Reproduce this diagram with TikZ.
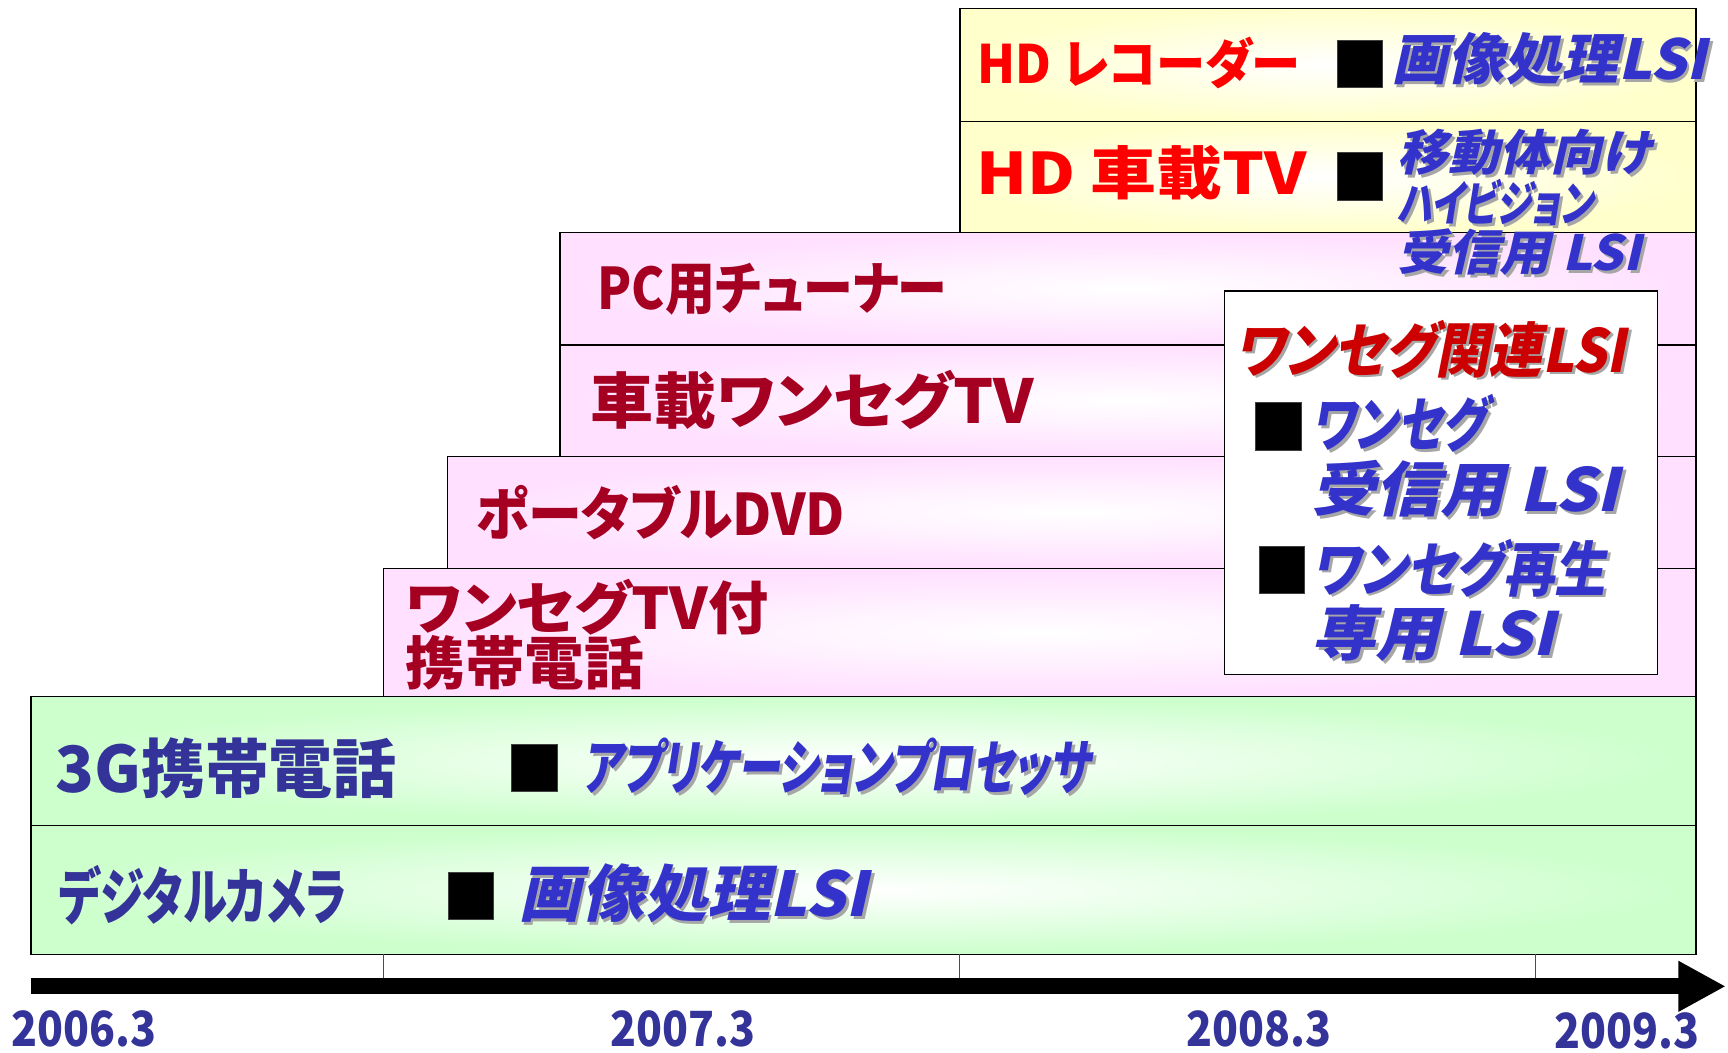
\documentclass[tikz,border=0pt]{standalone}
\usepackage{graphicx}
\usepackage{fontspec}
\setmainfont{Noto Sans CJK JP}[RawFeature=+palt]
\newfontfamily\slfont{Noto Sans CJK JP}[FakeSlant=0.22, RawFeature=+palt]
\usepackage{tikz}
\usetikzlibrary{%
  positioning,%
  arrows.meta%
}
\definecolor{boxyellow}{HTML}{FFFFCC}
\definecolor{boxpink}{HTML}{FFE0FF}
\definecolor{boxgreen}{HTML}{CCFFCC}
\definecolor{prodred}{HTML}{A50021}
\definecolor{hdred}{HTML}{FF0000}
\definecolor{segred}{HTML}{CC0000}
\definecolor{lsiblue}{HTML}{3333CC}
\definecolor{navyblue}{HTML}{333399}
\definecolor{shadowgray}{HTML}{A6A6A6}
\newcommand{\shad}[1]{\makebox[0pt][l]{\kern2.5pt\raisebox{-2.5pt}{\textcolor{shadowgray}{#1}}}#1}
\newcommand{\fsz}[2]{\fontsize{#1}{#2}\selectfont}
\newcommand{\hs}[2]{\scalebox{#1}[1]{#2}}

\begin{document}
\begin{tikzpicture}[x=1pt, y=-1pt,
  ybox/.style={draw=black, line width=1.2pt, inner color=white, outer color=boxyellow},
  pbox/.style={draw=black, line width=1.2pt, inner color=white, outer color=boxpink},
  gbox/.style={draw=black, line width=1.2pt, inner color=white, outer color=boxgreen},
  wbox/.style={draw=black, line width=1.2pt, fill=white},
  chip/.style={fill=black, draw=black!75, line width=0.8pt, minimum width=41pt, minimum height=43pt, inner sep=0pt},
  hdlabel/.style={anchor=west, inner sep=0pt, text=hdred, font=\bfseries\fsz{48}{52}},
  prodlabel/.style={anchor=west, inner sep=0pt, text=prodred, align=left, font=\bfseries\fsz{52}{50}},
  navylabel/.style={anchor=west, inner sep=0pt, text=navyblue, font=\bfseries\fsz{56}{56}},
  lsilabel/.style={anchor=west, inner sep=0pt, text=lsiblue, align=left, font=\slfont\bfseries\fsz{54}{58.5}},
  yearlabel/.style={inner sep=0pt, text=navyblue, font=\bfseries\fsz{44}{44}},
  tickline/.style={draw=black!70, line width=0.8pt}
]
\useasboundingbox (0,0) rectangle (1568,954.6);

% rows, from the top
\draw[ybox] (871,8) rectangle (1539,110);
\draw[ybox] (871,110) rectangle (1539,211);
\draw[pbox] (508,211) rectangle (1539,313);
\draw[pbox] (508,313) rectangle (1539,414);
\draw[pbox] (406,414) rectangle (1539,516);
\draw[pbox] (348,516) rectangle (1539,632);
\draw[gbox] (28,632) rectangle (1539,749);
\draw[gbox] (28,749) rectangle (1539,866);
\draw[wbox] (1111,264) rectangle (1504,612);

% HD products
\node[hdlabel] (hdrec) at (887,57) {\hs{0.93}{HD レコーダー}};
\node[chip] (chiprec) at (1234,58) {};
\node[lsilabel, font=\slfont\bfseries\fsz{50}{50}] (lsirec) at (1262,55) {\shad{\hs{1.03}{画像処理LSI}}};
\node[hdlabel, font=\bfseries\fsz{52}{52}] (hdcar) at (886,157) {\hs{1.15}{HD 車載TV}};
\node[chip] (chipcar) at (1234,160) {};
\node[lsilabel, font=\slfont\bfseries\fsz{44}{44.5}] (lsicar) at (1268,185)
  {\shad{\hs{1.05}{移動体向け}}\\\shad{\hs{0.74}{ハイビジョン}}\\\shad{\hs{1.05}{受信用 LSI}}};

% one-seg products
\node[prodlabel] (pctuner) at (542,262) {\hs{0.87}{PC用チューナー}};
\node[prodlabel, font=\bfseries\fsz{55}{55}] (carseg) at (536,363) {\hs{1.04}{車載ワンセグTV}};
\node[prodlabel] (dvd) at (432,465) {\hs{0.94}{ポータブルDVD}};
\node[prodlabel] (segphone) at (368,576) {\hs{1.05}{ワンセグTV付}\\\hs{1.04}{携帯電話}};

% one-seg LSI box
\node[lsilabel, text=segred] (seglsi) at (1120,318) {\shad{\hs{0.9}{ワンセグ関連LSI}}};
\node[chip] (chiprx) at (1160,387) {};
\node[lsilabel] (segrx) at (1190,415) {\shad{\hs{0.78}{ワンセグ}}\\\shad{\hs{1.08}{受信用 LSI}}};
\node[chip] (chipplay) at (1163,517) {};
\node[lsilabel] (segplay) at (1190,546) {\shad{\hs{0.86}{ワンセグ再生}}\\\shad{\hs{1.08}{専用 LSI}}};

% base products
\node[navylabel, font=\bfseries\fsz{58}{58}] (phone3g) at (50,697) {3G携帯電話};
\node[chip] (chipapp) at (485,697) {};
\node[lsilabel] (appproc) at (528,697) {\shad{\hs{0.715}{アプリケーションプロセッサ}}};
\node[navylabel] (camera) at (53,812) {\hs{0.72}{デジタルカメラ}};
\node[chip] (chipcam) at (427,813) {};
\node[lsilabel, font=\slfont\bfseries\fsz{56}{56}] (camlsi) at (470,812) {\shad{\hs{1.02}{画像処理LSI}}};

% time axis
\foreach \tx in {348,871,1393}
  \draw[tickline] (\tx,866) -- (\tx,887);
\coordinate (tstart) at (28,895);
\coordinate (tend) at (1566,895);
\draw[line width=14.5pt, -{Triangle[length=43pt, width=43pt]}] (tstart) -- (tend);
\node[yearlabel] (y2006) at (76,934) {\hs{0.88}{2006.3}};
\node[yearlabel] (y2007) at (620,934) {\hs{0.88}{2007.3}};
\node[yearlabel] (y2008) at (1142,934) {\hs{0.88}{2008.3}};
\node[yearlabel] (y2009) at (1476,935.5) {\hs{0.88}{2009.3}};
\end{tikzpicture}
\end{document}
